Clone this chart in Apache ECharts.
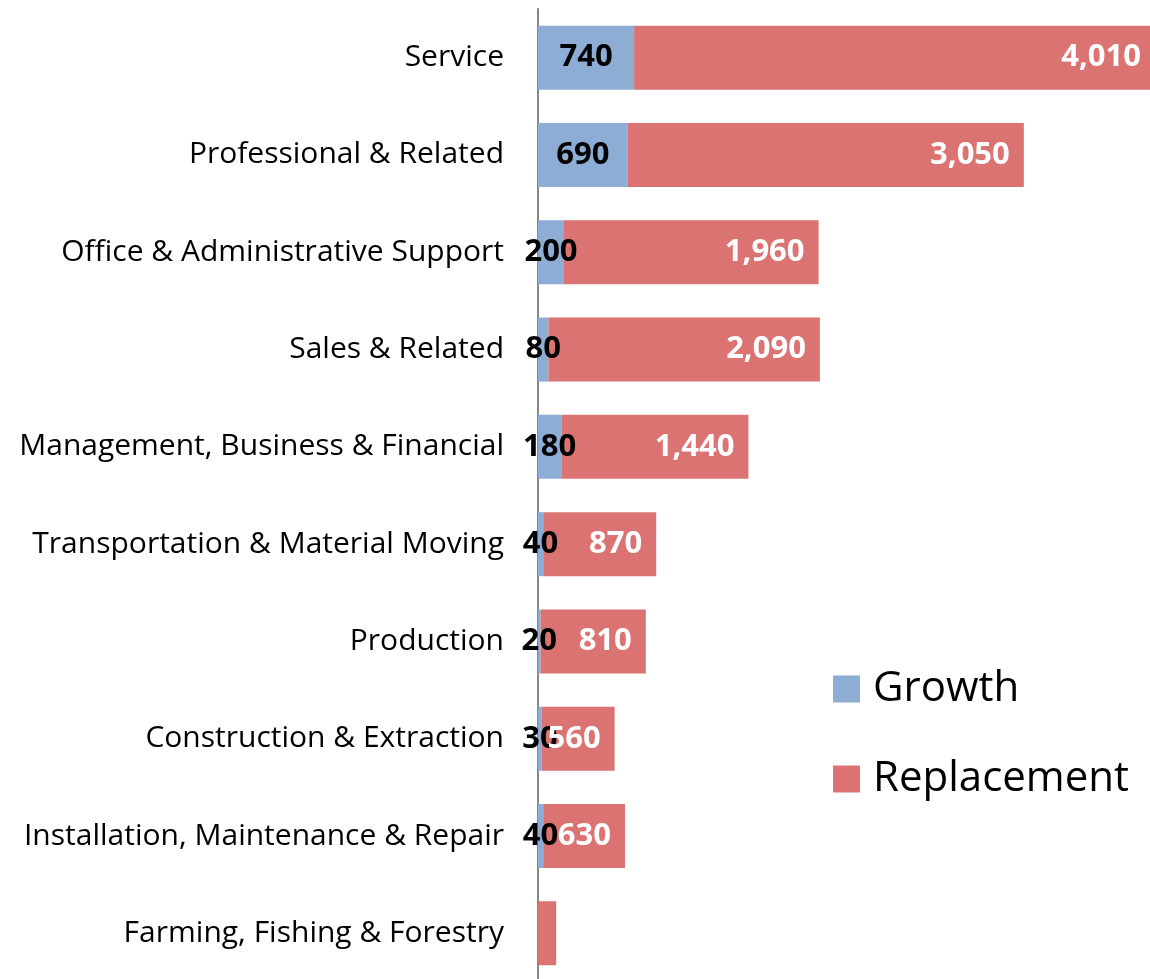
<!DOCTYPE html>
<html>
<head>
<meta charset="utf-8">
<script src="https://cdn.jsdelivr.net/npm/echarts@6/dist/echarts.min.js"></script>
<style>
  html, body { margin: 0; padding: 0; background: #fff; overflow: hidden; }
  #chart { width: 1170px; height: 1000px; }
</style>
</head>
<body>
<div id="chart"></div>
<script>
const categories = [
    'Service',
    'Professional & Related',
    'Office & Administrative Support',
    'Sales & Related',
    'Management, Business & Financial',
    'Transportation & Material Moving',
    'Production',
    'Construction & Extraction',
    'Installation, Maintenance & Repair',
    'Farming, Fishing & Forestry'
];
const growth = [740, 690, 200, 80, 180, 40, 20, 30, 40, 0];
const replacement = [4010, 3050, 1960, 2090, 1440, 870, 810, 560, 630, 140];

const chartDom = document.getElementById('chart');
let myChart = echarts.init(chartDom);
let option;

let colors = ['#8DADD5', '#DB7372'];
const font = '"Open Sans", Lato, sans-serif';

option = {
    color: colors,
    animation: false,
    textStyle: { fontFamily: font },
    legend: {
        orient: 'vertical',
        left: 833,
        top: 668,
        padding: 0,
        icon: 'rect',
        itemWidth: 27,
        itemHeight: 27,
        itemGap: 48,
        textStyle: { fontSize: 42, lineHeight: 42, color: '#000', fontFamily: font, padding: [0, 0, 0, 8] },
        data: ['Growth', 'Replacement']
    },
    grid: {
        left: 538,
        top: 9,
        width: 617,
        height: 973
    },
    xAxis: {
        type: 'value',
        min: 0,
        max: 4750,
        show: false,
        splitLine: { show: false }
    },
    yAxis: {
        type: 'category',
        inverse: true,
        data: categories,
        axisLine: { lineStyle: { color: '#888', width: 2 } },
        axisTick: { show: false },
        axisLabel: { fontSize: 30, color: '#000', margin: 34, fontFamily: font }
    },
    series: [
        {
            name: 'Growth',
            type: 'bar',
            stack: 'total',
            barWidth: 64,
            data: growth,
            label: {
                show: true,
                position: 'inside',
                color: '#000',
                fontWeight: 'bold',
                fontSize: 31,
                fontFamily: font,
                formatter: p => p.value > 0 ? p.value.toLocaleString('en-US') : ''
            }
        },
        {
            name: 'Replacement',
            type: 'bar',
            stack: 'total',
            barWidth: 64,
            data: replacement,
            label: {
                show: true,
                position: 'insideRight',
                distance: 14,
                color: '#fff',
                fontWeight: 'bold',
                fontSize: 31,
                fontFamily: font,
                formatter: p => p.dataIndex === categories.length - 1 ? '' : p.value.toLocaleString('en-US')
            }
        }
    ]
};

option && myChart.setOption(option);
</script>
</body>
</html>
